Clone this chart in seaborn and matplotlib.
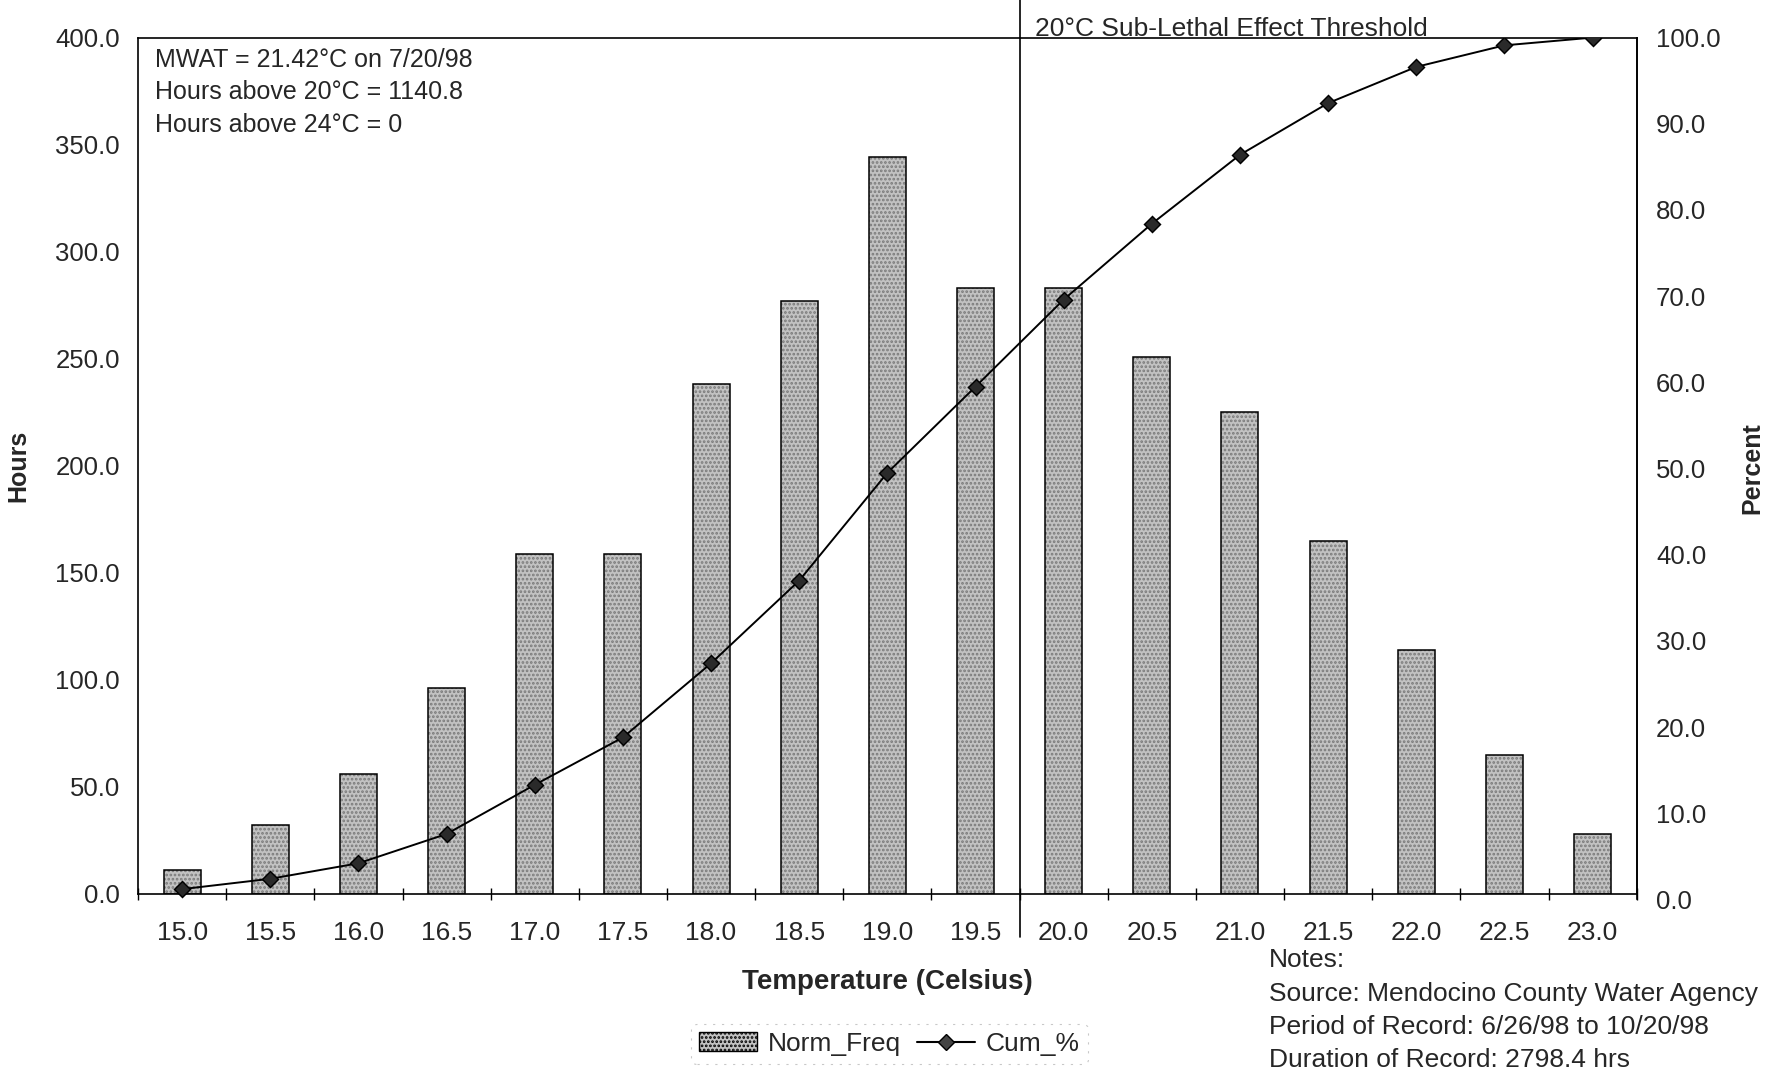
import numpy as np
import pandas as pd
import matplotlib
matplotlib.use("Agg")
import matplotlib.pyplot as plt
import seaborn as sns
from matplotlib.patches import Patch
from matplotlib.lines import Line2D

# ---------------------------------------------------------------- data
temps = ["15.0", "15.5", "16.0", "16.5", "17.0", "17.5", "18.0", "18.5", "19.0",
         "19.5", "20.0", "20.5", "21.0", "21.5", "22.0", "22.5", "23.0"]
norm_freq = [11, 32, 56, 96, 159, 159, 238, 277, 344, 283, 283, 251, 225, 165, 114, 65, 28]
cum_pct = [1.2, 2.4, 4.2, 7.6, 13.3, 18.8, 27.4, 37.0, 49.5, 59.5, 69.6, 78.4, 86.4,
           92.4, 96.6, 99.1, 100.0]
hours_ticks = [0, 50, 100, 150, 200, 250, 300, 350, 400]
pct_ticks = [0, 10, 20, 30, 40, 50, 60, 70, 80, 90, 100]
threshold_pos = 9.5  # between 19.5 and 20.0

notes = ["Notes:",
         "Source: Mendocino County Water Agency",
         "Period of Record: 6/26/98 to 10/20/98",
         "Duration of Record: 2798.4 hrs"]
stats = ["MWAT = 21.42°C on 7/20/98",
         "Hours above 20°C = 1140.8",
         "Hours above 24°C = 0"]

df = pd.DataFrame({"Temp": temps, "Norm_Freq": norm_freq, "Cum_%": cum_pct})

# ---------------------------------------------------------------- style
sns.set_theme(style="white")
plt.rcParams["font.family"] = ["Liberation Sans", "DejaVu Sans"]
plt.rcParams["hatch.linewidth"] = 1.3
plt.rcParams["hatch.color"] = "#7a7a7a"

fig = plt.figure(figsize=(17.79, 10.74), dpi=100)
L, R = 0.0776, 0.920
ax = fig.add_axes([L, 0.1676, R - L, 0.7974])
ax2 = fig.add_axes([L, 0.1625, R - L, 0.8025])
ax2.patch.set_visible(False)

# bars: stippled fill, then outline
sns.barplot(data=df, x="Temp", y="Norm_Freq", color="#c2c2c2", width=0.42,
            edgecolor="#7a7a7a", linewidth=0, hatch="....", ax=ax)
sns.barplot(data=df, x="Temp", y="Norm_Freq", width=0.42, fill=False,
            edgecolor="black", linewidth=1.1, ax=ax)

ax.set_xlim(-0.5, len(temps) - 0.5)
ax.set_ylim(0, 400)
ax.set_yticks(hours_ticks)
ax.set_yticklabels([f"{v:.1f}" for v in hours_ticks], fontsize=18.5)
ax.tick_params(axis="x", labelsize=19, pad=19.5, length=0)
ax.tick_params(axis="y", length=0, pad=13)
ax.set_xticks(np.arange(len(temps) + 1) - 0.5, minor=True)
ax.tick_params(axis="x", which="minor", length=8, width=1, color="black",
               direction="inout", bottom=True)
ax.set_xlabel("Temperature (Celsius)", fontsize=20, fontweight="bold", labelpad=17)
ax.set_ylabel("Hours", fontsize=18, fontweight="bold", labelpad=18)
for s in ax.spines.values():
    s.set_color("black")
    s.set_linewidth(1.2)

# cumulative percent line
sns.pointplot(data=df, x="Temp", y="Cum_%", color="black", markers="D",
              markersize=8, linewidth=1.4, ax=ax2)
for coll in ax2.collections:
    coll.set_facecolor("#2a2a2a")
ax2.lines[0].set_markerfacecolor("#2a2a2a")
ax2.set_xlim(-0.5, len(temps) - 0.5)
ax2.set_ylim(0, 100)
ax2.set_xticks([])
ax2.set_xlabel("")
ax2.yaxis.tick_right()
ax2.yaxis.set_label_position("right")
ax2.set_yticks(pct_ticks)
ax2.set_yticklabels([f"{v:.1f}" for v in pct_ticks], fontsize=18.5)
ax2.tick_params(axis="y", length=0, pad=14)
ax2.set_ylabel("Percent", fontsize=18, fontweight="bold", labelpad=14)
for name, s in ax2.spines.items():
    s.set_visible(name == "right")
    s.set_color("black")
    s.set_linewidth(1.2)

# threshold line, running above and below the plot box
ax.axvline(threshold_pos, ymin=-0.05, ymax=1.045, color="black", lw=1.2, clip_on=False)
ax.text(threshold_pos + 0.17, 0.996, "20°C Sub-Lethal Effect Threshold",
        transform=ax.get_xaxis_transform(), fontsize=19, va="bottom", ha="left")

# stats text block
ax.text(0.011, 0.988, "\n".join(stats), transform=ax.transAxes, fontsize=18,
        va="top", ha="left", linespacing=1.45)

# notes block
fig.text(0.7135, 0.117, "\n".join(notes), fontsize=19, va="top", ha="left", linespacing=1.49)

# legend
handles = [Patch(facecolor="#c2c2c2", edgecolor="black", hatch="....", label="Norm_Freq"),
           Line2D([0], [0], color="black", marker="D", markersize=8,
                  markerfacecolor="#444444", markeredgecolor="black", label="Cum_%")]
leg = fig.legend(handles=handles, loc="center", bbox_to_anchor=(0.5, 0.028), ncol=2,
                 fontsize=19, frameon=True, handlelength=2.2, columnspacing=0.6,
                 handletextpad=0.4, borderpad=0.3)
leg.get_frame().set_edgecolor("#bbbbbb")
leg.get_frame().set_linestyle((0, (2, 6)))
leg.get_frame().set_linewidth(0.8)

fig.savefig("out.png", dpi=100)
